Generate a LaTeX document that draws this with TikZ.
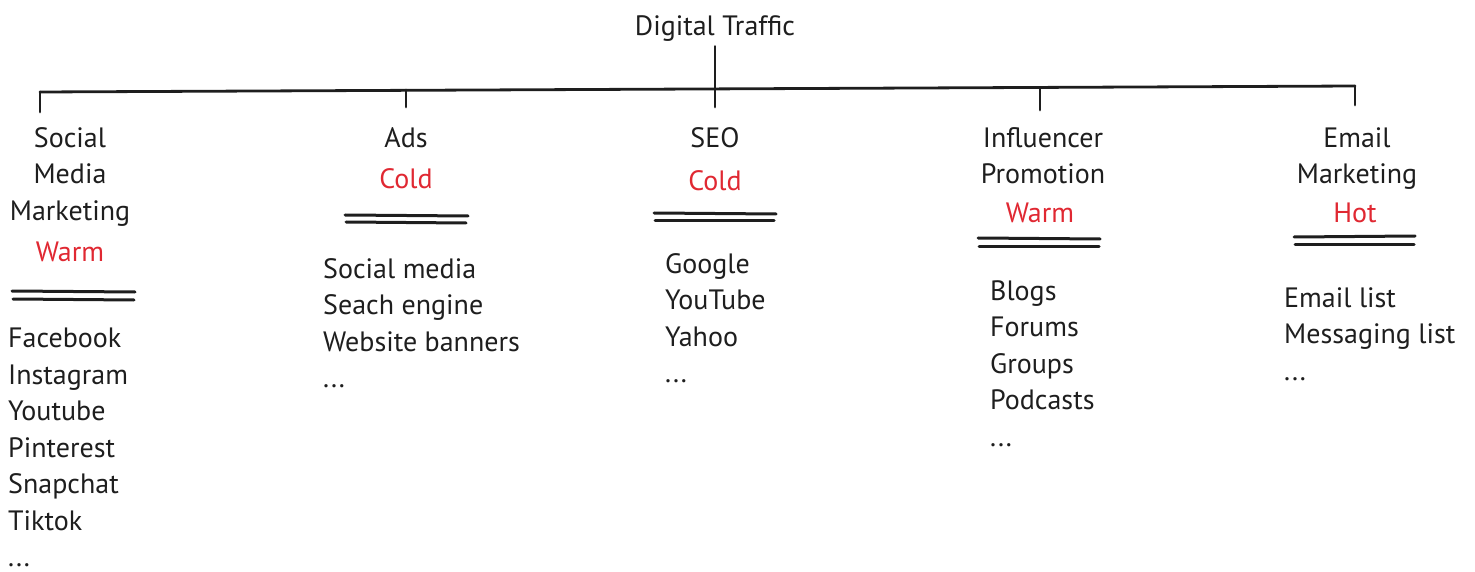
\documentclass[tikz,border=0pt]{standalone}
\usepackage{fontspec}
\setmainfont{PT Sans}
\definecolor{ink}{RGB}{30,30,30}
\definecolor{hotred}{RGB}{224,40,50}

\begin{document}
\begin{tikzpicture}[x=1pt, y=-1pt, line cap=round, line join=round]
\tikzset{lbl/.style={inner sep=0pt, text=ink, font=\fontsize{28}{36.5}\selectfont},
         head/.style={lbl, align=center, anchor=north},
         temp/.style={lbl, text=hotred, anchor=north},
         items/.style={lbl, align=left, anchor=north west},
         tree/.style={draw=ink, line width=2.8pt},
         rule/.style={draw=ink, line width=3pt}}
\useasboundingbox (0,0) rectangle (1475,572);
% root
\node[head] (title) at (715,9.5) {\strut Digital Traffic};
% channels
\node[head] (SMM) at (70,121.5) {\strut Social\\Media\\Marketing};
\node[head] (Ads) at (406,121.5) {\strut Ads};
\node[head] (SEO) at (715,121.5) {\strut SEO};
\node[head] (Infl) at (1043,121.5) {\strut Influencer\\Promotion};
\node[head] (Email) at (1357,121.5) {\strut Email\\Marketing};
% temperature
\node[temp] (tSMM) at (70,235.5) {\strut Warm};
\node[temp] (tAds) at (406,162.5) {\strut Cold};
\node[temp] (tSEO) at (715,164.5) {\strut Cold};
\node[temp] (tInfl) at (1040,196.5) {\strut Warm};
\node[temp] (tEmail) at (1355,196.5) {\strut Hot};
% lists
\node[items] (lSMM) at (8,322) {\strut Facebook\\Instagram\\Youtube\\Pinterest\\Snapchat\\Tiktok\\...};
\node[items] (lAds) at (323,252.5) {\strut Social media\\Seach engine\\Website banners\\...};
\node[items] (lSEO) at (665,247.5) {\strut Google\\YouTube\\Yahoo\\...};
\node[items] (lInfl) at (990,274.5) {\strut Blogs\\Forums\\Groups\\Podcasts\\...};
\node[items] (lEmail) at (1284,281.5) {\strut Email list\\Messaging list\\...};
% tree
\coordinate (bSMM) at (40,92);
\coordinate (bAds) at (406,90);
\coordinate (bInfl) at (1040,88);
\coordinate (bEmail) at (1355,86);
\draw[tree] (bSMM) -- (bEmail);
\draw[tree, shorten >=14.5pt] (title.south) -- (SEO.north);
\draw[tree, shorten >=9.5pt] (bSMM) -- (bSMM |- SMM.north);
\draw[tree, shorten >=14.5pt] (bAds) -- (Ads.north);
\draw[tree, shorten >=11.5pt] (bInfl) -- (bInfl |- Infl.north);
\draw[tree, shorten >=16.5pt] (bEmail) -- (bEmail |- Email.north);
% double rules
\draw[rule] (12,291) -- (135,292);
\draw[rule] (13,299) -- (134,300);
\draw[rule] (345,215) -- (468,216);
\draw[rule] (346,222) -- (466,223);
\draw[rule] (654,213) -- (776,214);
\draw[rule] (655,221) -- (774,221);
\draw[rule] (978,238) -- (1100,239);
\draw[rule] (979,246) -- (1099,246);
\draw[rule] (1294,237) -- (1415,236);
\draw[rule] (1295,244) -- (1414,244);
\end{tikzpicture}
\end{document}
